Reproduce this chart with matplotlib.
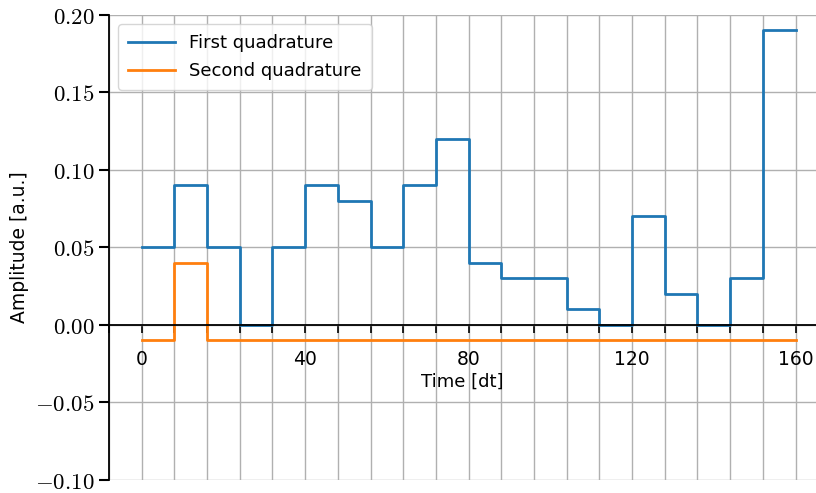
import numpy as np
import matplotlib
matplotlib.use("Agg")
import matplotlib.pyplot as plt
from matplotlib.ticker import MultipleLocator, FuncFormatter

plt.rcParams["font.family"] = ["DejaVu Sans"]
plt.rcParams["mathtext.fontset"] = "cm"

# Pulse samples, one value per 8-dt segment
dt_step = 8
first_quadrature = [0.05, 0.09, 0.05, 0.00, 0.05, 0.09, 0.08, 0.05, 0.09, 0.12,
                    0.04, 0.03, 0.03, 0.01, 0.00, 0.07, 0.02, 0.00, 0.03, 0.19]
second_quadrature = [-0.01, 0.04, -0.01, -0.01, -0.01, -0.01, -0.01, -0.01, -0.01, -0.01,
                     -0.01, -0.01, -0.01, -0.01, -0.01, -0.01, -0.01, -0.01, -0.01, -0.01]

times = np.arange(len(first_quadrature) + 1) * dt_step
i_vals = first_quadrature + [first_quadrature[-1]]
q_vals = second_quadrature + [second_quadrature[-1]]

fig = plt.figure(figsize=(8.16, 4.93), dpi=100)
ax = fig.add_axes([0.1336, 0.0264, 0.8664, 0.9432])

ax.step(times, i_vals, where="post", color="#1f77b4", lw=2, label="First quadrature")
ax.step(times, q_vals, where="post", color="#ff7f0e", lw=2, label="Second quadrature")

ax.set_xlim(-8, 165)
ax.set_ylim(-0.1, 0.2)

ax.xaxis.set_major_locator(MultipleLocator(40))
ax.xaxis.set_minor_locator(MultipleLocator(8))
ax.yaxis.set_major_locator(MultipleLocator(0.05))
ax.yaxis.set_major_formatter(FuncFormatter(lambda v, p: "$%.2f$" % v))

ax.grid(True, which="both", axis="x", color="#b0b0b0", lw=1)
ax.grid(True, which="major", axis="y", color="#b0b0b0", lw=1)
ax.set_axisbelow(True)

ax.spines["top"].set_visible(False)
ax.spines["right"].set_visible(False)
ax.spines["bottom"].set_position("zero")
ax.spines["bottom"].set_linewidth(1.3)
ax.spines["left"].set_linewidth(1.3)

ax.tick_params(axis="x", which="both", direction="out", length=6, width=1.2,
               pad=12, labelsize=13.5)
ax.tick_params(axis="y", which="major", direction="out", length=7, width=1.5,
               labelsize=16.5)

ax.set_xlabel("Time [dt]", fontsize=13, labelpad=3)
ax.set_ylabel("Amplitude [a.u.]", fontsize=13.5, labelpad=4)

ax.legend(loc="upper left", fontsize=13, handlelength=2.6, borderpad=0.55,
          labelspacing=0.55)

fig.savefig("out.png", dpi=100)
